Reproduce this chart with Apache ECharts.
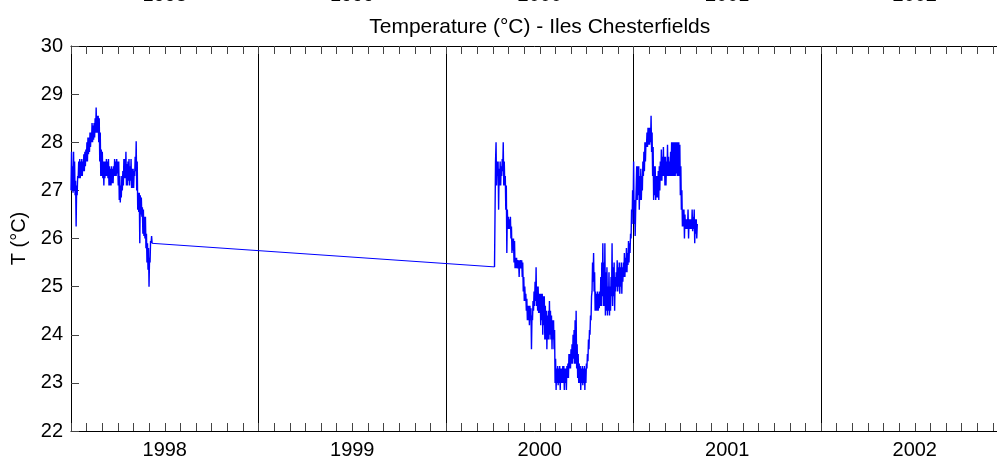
<!DOCTYPE html>
<html>
<head>
<meta charset="utf-8">
<script src="https://cdn.jsdelivr.net/npm/echarts@6/dist/echarts.min.js"></script>
<style>
  html, body { margin: 0; padding: 0; background: #fff; }
  #chart { width: 997px; height: 459px; }
</style>
</head>
<body>
<div id="chart"></div>
<script>
// ---------------- data ----------------
const titleText = 'Temperature (°C) - Iles Chesterfields';
const yAxisName = 'T (°C)';
const yearLabels = ['1998', '1999', '2000', '2001', '2002'];
const axisOrigin = '1998-01-01';
const stepDays = 2;                 // each [low, high] pair covers 2 days
const seg1Start = '1998-01-01';
const seg1Bands = [
  [27.0, 27.8], [27.0, 27.5], [26.95, 27.8], [27.0, 27.6], [26.9, 27.2],
  [26.25, 27.1], [26.9, 27.3], [27.25, 27.6], [27.25, 27.65], [27.25, 27.6],
  [27.3, 27.65], [27.3, 27.6], [27.4, 27.75], [27.4, 27.8], [27.5, 27.85],
  [27.6, 28.0], [27.6, 28.1], [27.75, 28.1], [27.8, 28.2], [27.9, 28.2],
  [28.0, 28.4], [28.0, 28.35], [28.05, 28.4], [28.1, 28.5], [28.2, 28.72],
  [28.2, 28.55], [28.2, 28.55], [28.0, 28.5], [27.6, 28.2], [27.3, 27.85],
  [27.3, 27.8], [27.25, 27.6], [27.1, 27.6], [27.25, 27.6], [27.3, 27.65],
  [27.3, 27.6], [27.25, 27.65], [27.1, 27.5], [27.1, 27.45], [27.1, 27.5],
  [27.15, 27.45], [27.15, 27.5], [27.3, 27.65], [27.3, 27.6], [27.3, 27.65],
  [27.35, 27.6], [27.1, 27.6], [26.8, 27.3], [26.75, 27.1], [26.85, 27.3],
  [27.0, 27.4], [27.1, 27.65], [27.25, 27.65], [27.25, 27.8], [27.1, 27.55],
  [27.1, 27.6], [27.2, 27.65], [27.1, 27.5], [27.2, 27.65], [27.05, 27.45],
  [27.05, 27.45], [27.05, 27.4], [27.3, 27.7], [27.4, 28.02], [27.0, 27.6],
  [26.6, 26.95], [26.55, 26.95], [25.9, 26.9], [26.5, 26.85], [26.45, 26.65],
  [26.1, 26.6], [26.05, 26.45], [26.0, 26.45], [25.8, 26.1], [25.5, 25.9],
  [25.35, 25.8], [25.0, 25.6], [25.5, 25.95], [25.9, 26.05], [25.9, 25.9]
];
const seg2Start = '2000-04-05';
const seg2Bands = [
  [25.41, 25.41], [27.6, 28.0], [27.1, 27.6], [27.3, 27.6], [26.6, 27.45],
  [27.1, 27.6], [27.1, 27.5], [27.3, 27.65], [27.4, 28.0], [27.1, 27.6],
  [27.1, 27.3], [26.6, 27.1], [25.7, 26.6], [26.2, 26.45], [26.2, 26.4],
  [26.2, 26.45], [26.0, 26.25], [25.7, 26.0], [25.75, 26.0], [25.5, 25.95],
  [25.38, 25.6], [25.38, 25.6], [25.38, 25.55], [25.38, 25.55], [25.2, 25.55],
  [25.38, 25.55], [25.38, 25.55], [25.2, 25.5], [24.9, 25.2], [24.7, 25.0],
  [24.7, 24.85], [24.5, 24.75], [24.3, 24.6], [24.3, 24.6], [24.2, 24.6],
  [24.3, 24.55], [23.7, 24.4], [24.3, 24.7], [24.5, 24.9], [24.6, 25.1],
  [24.7, 25.4], [24.6, 25.0], [24.5, 25.0], [24.45, 24.85], [24.45, 24.85],
  [24.2, 24.85], [24.3, 24.85], [24.0, 24.8], [24.2, 24.8], [23.9, 24.6],
  [23.9, 24.5], [23.7, 24.4], [23.9, 24.5], [23.9, 24.7], [24.0, 24.5],
  [23.9, 24.4], [23.7, 24.3], [23.9, 24.3], [23.7, 24.1], [23.0, 23.5],
  [22.85, 23.3], [23.0, 23.35], [22.95, 23.3], [23.0, 23.35], [22.85, 23.3],
  [23.0, 23.3], [23.0, 23.35], [23.0, 23.35], [22.85, 23.3], [23.0, 23.3],
  [22.85, 23.35], [23.1, 23.4], [23.1, 23.6], [23.3, 23.6], [23.3, 23.7],
  [23.4, 23.8], [23.4, 24.0], [23.5, 24.1], [23.4, 24.3], [23.4, 24.5],
  [23.3, 23.8], [23.1, 23.6], [23.0, 23.4], [23.0, 23.35], [22.85, 23.3],
  [23.0, 23.35], [22.95, 23.3], [23.0, 23.35], [22.85, 23.3], [23.0, 23.4],
  [23.3, 23.6], [23.45, 23.9], [23.7, 24.1], [24.0, 24.4], [24.3, 24.8],
  [24.9, 25.5], [25.1, 25.7], [24.9, 25.3], [24.5, 24.9], [24.5, 24.85],
  [24.5, 24.9], [24.5, 24.85], [24.55, 24.9], [24.6, 25.2], [24.6, 25.5],
  [24.8, 25.9], [24.6, 25.5], [24.6, 25.9], [24.4, 25.3], [24.5, 25.4],
  [24.4, 25.0], [24.5, 25.3], [24.4, 25.0], [24.5, 25.2], [24.8, 25.9],
  [24.6, 25.4], [24.8, 25.5], [24.5, 25.2], [24.9, 25.3], [25.0, 25.55],
  [24.9, 25.4], [25.0, 25.5], [24.85, 25.4], [25.0, 25.5], [24.85, 25.4],
  [25.1, 25.5], [25.2, 25.7], [25.2, 25.6], [25.3, 25.8], [25.3, 25.7],
  [25.45, 25.95], [25.5, 25.9], [25.7, 26.1], [26.0, 26.6], [26.3, 27.0],
  [26.6, 27.6], [26.3, 26.8], [26.05, 26.6], [26.6, 27.5], [26.8, 27.5],
  [26.9, 27.5], [26.6, 27.3], [26.8, 27.45], [26.8, 27.3], [27.0, 27.6],
  [27.3, 27.8], [27.4, 28.0], [27.6, 28.0], [27.9, 28.2], [27.9, 28.3],
  [27.95, 28.3], [27.95, 28.3], [28.0, 28.55], [27.8, 28.2], [27.3, 27.9],
  [26.8, 27.5], [26.9, 27.5], [26.8, 27.3], [26.85, 27.3], [26.85, 27.4],
  [26.8, 27.5], [27.0, 27.6], [27.2, 27.85], [27.2, 27.7], [27.3, 27.9],
  [27.3, 27.7], [27.1, 27.7], [27.1, 27.6], [27.3, 27.95], [27.3, 27.7],
  [27.3, 27.6], [27.3, 27.8], [27.3, 28.0], [27.3, 28.0], [27.3, 28.0],
  [27.3, 28.0], [27.3, 28.0], [27.35, 28.0], [27.3, 28.0], [27.3, 28.0],
  [27.3, 27.95], [26.9, 27.5], [26.6, 27.0], [26.25, 26.6], [26.25, 26.6],
  [26.0, 26.5], [26.2, 26.4], [26.2, 26.4], [26.2, 26.6], [26.0, 26.4],
  [26.2, 26.4], [26.2, 26.4], [26.2, 26.6], [26.15, 26.45], [26.2, 26.6],
  [25.9, 26.4], [26.1, 26.4], [26.0, 26.3]
];
const yMin = 22, yMax = 30, yStep = 1;
const monthsShown = 60;   // 1998-01 .. 2003-01

// ---------------- build ----------------
const DAY = 86400000;
const originMs = Date.parse(axisOrigin + 'T00:00:00Z');
function toMonths(startStr, dayOffset) {
  const d = (Date.parse(startStr + 'T00:00:00Z') - originMs) / DAY + dayOffset;
  return d * 12 / 365.25;
}
function segPoints(start, bands) {
  const out = [];
  bands.forEach((b, i) => {
    out.push([toMonths(start, i * stepDays), b[0]]);
    if (b[1] !== b[0]) out.push([toMonths(start, i * stepDays + stepDays / 2), b[1]]);
  });
  return out;
}
const p1 = segPoints(seg1Start, seg1Bands);
const p2 = segPoints(seg2Start, seg2Bands);
const gapLine = [p1[p1.length - 1], p2[0]];   // straight line across the missing period

const FONT = 'Liberation Sans, Arial, Helvetica, sans-serif';
const chart = echarts.init(document.getElementById('chart'), null, { renderer: 'canvas' });

const lineBase = { type: 'line', xAxisIndex: 0, yAxisIndex: 0, showSymbol: false, symbol: 'none', clip: true, emphasis: { disabled: true } };

const option = {
  animation: false,
  backgroundColor: '#ffffff',
  grid: { left: 71, top: 46, width: 937.5, height: 385, containLabel: false, outerBoundsMode: 'none' },
  xAxis: [
    { // bottom: monthly ticks + year labels
      type: 'value', min: 0, max: monthsShown, interval: 1, position: 'bottom',
      axisLine: { show: true, onZero: false, lineStyle: { color: '#000', width: 1 } },
      axisTick: { show: true, inside: true, length: 8, lineStyle: { color: '#444', width: 1 } },
      axisLabel: {
        show: true, margin: 9, color: '#000', fontFamily: FONT, fontSize: 20,
        formatter: v => (Math.round(v) % 12 === 6 ? yearLabels[(Math.round(v) - 6) / 12] : '')
      },
      splitLine: { show: false }
    },
    { // top mirror ticks
      type: 'value', min: 0, max: monthsShown, interval: 1, position: 'top',
      axisLine: { show: true, onZero: false, lineStyle: { color: '#000', width: 1 } },
      axisTick: { show: true, inside: true, length: 8, lineStyle: { color: '#444', width: 1 } },
      axisLabel: { show: false }, splitLine: { show: false }
    },
    { // year separators
      type: 'value', min: 0, max: monthsShown, interval: 12, position: 'bottom',
      axisLine: { show: false }, axisTick: { show: false }, axisLabel: { show: false },
      splitLine: { show: true, lineStyle: { color: '#000', width: 1 } }
    }
  ],
  yAxis: [{
    type: 'value', min: yMin, max: yMax, interval: yStep,
    name: yAxisName, nameLocation: 'middle', nameGap: 42,
    nameTextStyle: { color: '#000', fontFamily: FONT, fontSize: 20 },
    axisLine: { show: true, lineStyle: { color: '#000', width: 1 } },
    axisTick: { show: true, inside: true, length: 8, lineStyle: { color: '#444', width: 1 } },
    axisLabel: { color: '#000', fontFamily: FONT, fontSize: 20, margin: 8 },
    splitLine: { show: false }
  }],
  series: [
    Object.assign({}, lineBase, { data: gapLine, lineStyle: { color: '#0000ff', width: 1 } }),
    Object.assign({}, lineBase, { data: p1, lineStyle: { color: '#0000ff', width: 1.4 } }),
    Object.assign({}, lineBase, { data: p2, lineStyle: { color: '#0000ff', width: 1.4 } })
  ],
  graphic: []
};
chart.setOption(option);

// title and clipped labels of the plot above (positions derived from the axis)
const centerX = chart.convertToPixel({ xAxisIndex: 0 }, monthsShown / 2);
const gfx = [{
  type: 'text', x: centerX, y: 27,
  style: { text: titleText, fill: '#000', font: '21px ' + FONT, textAlign: 'center', textVerticalAlign: 'middle' }
}];
yearLabels.forEach((t, k) => {
  gfx.push({
    type: 'text', x: chart.convertToPixel({ xAxisIndex: 0 }, 6 + 12 * k), y: 5,
    style: { text: t, fill: '#000', font: '20px ' + FONT, textAlign: 'center', textVerticalAlign: 'bottom' }
  });
});
chart.setOption({ graphic: gfx });
</script>
</body>
</html>
